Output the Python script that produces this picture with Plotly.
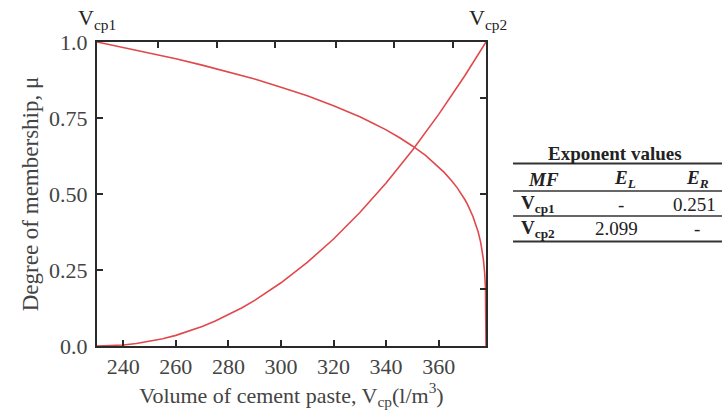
import plotly.graph_objects as go

# Membership functions for cement paste volume
vcp = [230, 235, 240, 250, 260, 270, 280, 290, 300, 310, 320, 330, 335,
       340, 345, 350, 355, 360, 362, 365, 367, 370, 371, 373, 374, 375,
       376, 376.5, 377, 377.5, 377.8, 378]
mu_vcp1 = [1.0, 0.991, 0.983, 0.964, 0.945, 0.924, 0.902, 0.878, 0.851,
           0.823, 0.790, 0.754, 0.733, 0.711, 0.686, 0.658, 0.627, 0.589,
           0.572, 0.543, 0.521, 0.481, 0.465, 0.427, 0.404, 0.376, 0.340,
           0.316, 0.285, 0.240, 0.190, 0.0]

vcp2_x = [230, 235, 240, 245, 250, 255, 260, 265, 270, 275, 280, 285, 290,
          295, 300, 310, 320, 330, 340, 350, 360, 370, 378]
mu_vcp2 = [0.0, 0.0008, 0.0035, 0.0082, 0.015, 0.0239, 0.035, 0.0485,
           0.064, 0.0822, 0.103, 0.125, 0.150, 0.178, 0.208, 0.275, 0.352,
           0.439, 0.536, 0.644, 0.762, 0.890, 1.0]

x_ticks = [240, 260, 280, 300, 320, 340, 360]
y_ticks = [0.0, 0.25, 0.50, 0.75, 1.0]
y_tick_text = ["0.0", "0.25", "0.50", "0.75", "1.0"]

# Exponent table
table_header = ["<i>MF</i>", "<i>E<sub>L</sub></i>", "<i>E<sub>R</sub></i>"]
table_rows = [["V<sub>cp1</sub>", "-", "0.251"],
              ["V<sub>cp2</sub>", "2.099", "-"]]

RED = "#e0484c"
AXIS = "#2a2a2a"
TEXT = "#444444"
FONT = "Liberation Serif"

fig = go.Figure()
fig.add_trace(go.Scatter(x=vcp, y=mu_vcp1, mode="lines",
                         line=dict(color=RED, width=1.6),
                         showlegend=False, hoverinfo="skip"))
fig.add_trace(go.Scatter(x=vcp2_x, y=mu_vcp2, mode="lines",
                         line=dict(color=RED, width=1.6),
                         showlegend=False, hoverinfo="skip"))
# invisible trace so the secondary (top / right) frame axes are drawn
fig.add_trace(go.Scatter(x=[230], y=[0], xaxis="x2", yaxis="y2", mode="markers",
                         marker=dict(opacity=0), showlegend=False, hoverinfo="skip"))

L, R, T, B = 97, 486, 42, 346
W, H = 725, 412


def px(xp):
    return (xp - L) / (R - L)


def py(yp):
    return (B - yp) / (B - T)


fig.update_layout(
    width=W, height=H,
    margin=dict(l=L, r=W - R, t=T, b=H - B),
    plot_bgcolor="white", paper_bgcolor="white",
    font=dict(family=FONT, size=22, color=TEXT),
    xaxis=dict(range=[230, 378], tickvals=x_ticks, ticks="inside", ticklen=6,
               tickwidth=1.5, tickcolor=AXIS, showline=True, linecolor=AXIS,
               linewidth=2, showgrid=False, zeroline=False,
               tickfont=dict(size=22, color=TEXT),
               title=dict(text="Volume of cement paste, V<sub>cp</sub>(l/m<sup>3</sup>)",
                          font=dict(size=22, color=TEXT), standoff=2)),
    yaxis=dict(range=[0, 1], tickvals=y_ticks, ticktext=y_tick_text,
               ticks="inside", ticklen=6, tickwidth=1.5, tickcolor=AXIS,
               showline=True, linecolor=AXIS, linewidth=2, showgrid=False,
               zeroline=False, tickfont=dict(size=22, color=TEXT),
               ticklabelstandoff=3,
               title=dict(text="Degree of membership, μ",
                          font=dict(size=23, color=TEXT), standoff=4)),
    xaxis2=dict(overlaying="x", side="top", range=[230, 378],
                tickvals=[253.3, 275.5, 297.9, 320.8, 343.1, 365.6],
                showticklabels=False, ticks="inside", ticklen=6, tickwidth=1.5,
                tickcolor=AXIS, showline=True, linecolor=AXIS, linewidth=2,
                showgrid=False, zeroline=False),
    yaxis2=dict(overlaying="y", side="right", range=[0, 1],
                tickvals=[0.187, 0.5, 0.815], showticklabels=False,
                ticks="inside", ticklen=6, tickwidth=1.5, tickcolor=AXIS,
                showline=True, linecolor=AXIS, linewidth=2, showgrid=False,
                zeroline=False),
)

annotations = [
    dict(x=px(97), y=py(19), text="V<sub>cp1</sub>", size=22),
    dict(x=px(488), y=py(19), text="V<sub>cp2</sub>", size=22),
    dict(x=px(615), y=py(153), text="<b>Exponent values</b>", size=19),
]
col_x = [543, 625, 697]
for cx, txt in zip(col_x, table_header):
    annotations.append(dict(x=px(cx), y=py(179), text=f"<b>{txt}</b>", size=19))
row_y = [204, 229]
row_col_x = [[538, 621, 694], [538, 616, 697]]
for ry, row, xs in zip(row_y, table_rows, row_col_x):
    for j, (cx, txt) in enumerate(zip(xs, row)):
        t = f"<b>{txt}</b>" if j == 0 else txt
        annotations.append(dict(x=px(cx), y=py(ry), text=t, size=19))

fig.update_layout(annotations=[
    dict(x=a["x"], y=a["y"], xref="paper", yref="paper", text=a["text"],
         showarrow=False, xanchor="center", yanchor="middle",
         font=dict(family=FONT, size=a["size"], color="#222222"))
    for a in annotations
])

shapes = []
for yline, lw in [(163.5, 2), (191, 1.5), (216, 1.5), (241.5, 2)]:
    shapes.append(dict(type="line", xref="paper", yref="paper",
                       x0=px(513), x1=px(722), y0=py(yline), y1=py(yline),
                       line=dict(color="#333333", width=lw)))
fig.update_layout(shapes=shapes)

fig.write_html("out.html")
